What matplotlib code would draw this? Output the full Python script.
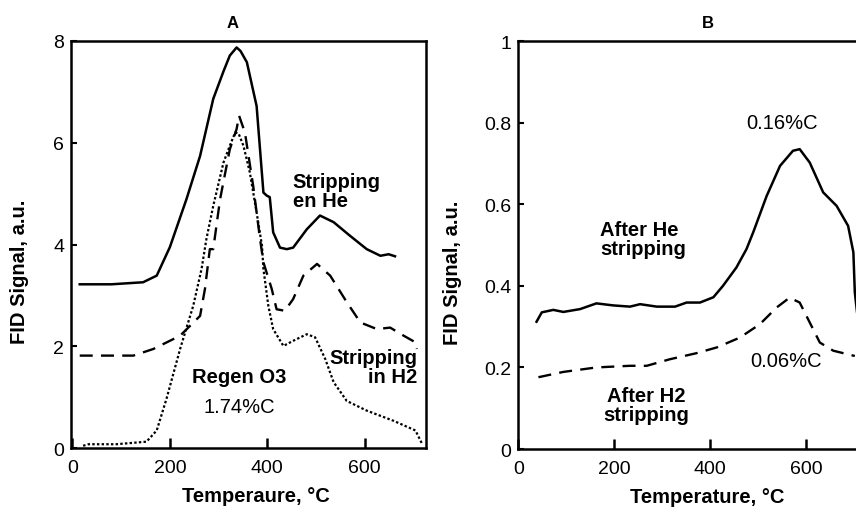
import matplotlib
matplotlib.use("Agg")
import matplotlib.pyplot as plt

plt.rcParams['font.family'] = ['Liberation Sans', 'DejaVu Sans']

# ---- panel A: TPO after regeneration / stripping ----
he_T = [15, 80, 145, 173, 200, 234, 262, 289, 310, 323, 337, 345, 358, 378, 385, 392,
        399, 405, 412, 426, 440, 453, 481, 508, 536, 570, 604, 632, 649, 662]
he_S = [3.22, 3.22, 3.26, 3.39, 3.95, 4.89, 5.74, 6.86, 7.4, 7.71, 7.87, 7.8, 7.58, 6.72, 5.87, 5.02,
        4.96, 4.93, 4.24, 3.94, 3.91, 3.94, 4.30, 4.57, 4.44, 4.17, 3.91, 3.78, 3.81, 3.77]

h2_T = [15, 70, 125, 166, 221, 262, 272, 282, 289, 303, 323, 337, 342, 354, 371, 385, 392,
        409, 419, 436, 453, 474, 502, 529, 563, 591, 625, 652, 680, 704, 707]
h2_S = [1.82, 1.82, 1.82, 1.95, 2.21, 2.60, 3.13, 3.91, 3.91, 4.89, 5.87, 6.27, 6.53, 6.20, 5.15, 4.11, 3.65,
        3.13, 2.73, 2.70, 2.93, 3.39, 3.62, 3.39, 2.87, 2.47, 2.34, 2.37, 2.21, 2.08, 1.95]

o3_T = [22, 33, 90, 152, 173, 193, 221, 248, 265, 275, 289, 310, 323, 334, 341, 351, 364, 378,
        389, 392, 402, 412, 433, 453, 481, 498, 519, 536, 563, 604, 659, 704, 717]
o3_S = [0.05, 0.08, 0.08, 0.13, 0.35, 0.97, 1.95, 2.80, 3.52, 4.11, 4.76, 5.61, 5.94, 6.20, 6.18, 5.94, 5.42, 4.63,
        3.98, 3.52, 2.80, 2.34, 2.01, 2.11, 2.24, 2.18, 1.75, 1.30, 0.93, 0.74, 0.54, 0.35, 0.10]

# ---- panel B: after stripping ----
bhe_T = [38, 49, 73, 94, 129, 163, 198, 233, 254, 289, 327, 351, 379, 407, 427, 455, 476, 490,
         518, 546, 573, 587, 608, 636, 664, 688, 699, 702, 710]
bhe_S = [0.312, 0.335, 0.341, 0.336, 0.343, 0.357, 0.352, 0.349, 0.355, 0.349, 0.349, 0.359, 0.359,
         0.372, 0.400, 0.445, 0.490, 0.531, 0.620, 0.694, 0.731, 0.735, 0.702, 0.629, 0.596, 0.547,
         0.482, 0.384, 0.30]

bh2_T = [42, 94, 163, 233, 268, 316, 372, 414, 462, 504, 539, 566, 587, 608, 629, 657, 702]
bh2_S = [0.176, 0.189, 0.200, 0.204, 0.204, 0.220, 0.235, 0.249, 0.273, 0.306, 0.347, 0.371,
         0.359, 0.310, 0.261, 0.241, 0.228]

a_yticks = [0, 2, 4, 6, 8]
b_yticks = [0, 0.2, 0.4, 0.6, 0.8, 1]
b_ylabels = ['0', '0.2', '0.4', '0.6', '0.8', '1']
xticks = [0, 200, 400, 600]

fig = plt.figure(figsize=(8.56, 5.10), dpi=100)
axA = fig.add_axes([0.0829, 0.119, 0.4144, 0.799])
axB = fig.add_axes([0.6055, 0.1176, 0.406, 0.80])


def style(ax):
    for s in ax.spines.values():
        s.set_linewidth(1.8)
    ax.tick_params(axis='x', direction='in', length=7, width=1.8, pad=8, labelsize=14)
    ax.tick_params(axis='y', direction='in', length=4, width=1.5, pad=5, labelsize=14)
    ax.set_xticks(xticks)


# panel A
axA.plot(he_T, he_S, color='black', lw=1.8)
axA.plot(h2_T, h2_S, color='black', lw=1.7, dashes=(5.5, 3.5))
axA.plot(o3_T, o3_S, color='black', lw=1.6, dashes=(1.1, 1.0))
axA.set_xlim(-3, 725)
axA.set_ylim(0, 8)
axA.set_yticks(a_yticks)
style(axA)
axA.set_title('A', fontsize=12, fontweight='bold', x=0.457, pad=10)
axA.set_xlabel('Temperaure, °C', fontsize=14.5, fontweight='bold')
axA.xaxis.set_label_coords(0.522, -0.116)
axA.xaxis.label.set_va('center')
axA.set_ylabel('FID Signal, a.u.', fontsize=14.5, fontweight='bold')
axA.yaxis.set_label_coords(-0.144, 0.435)
axA.yaxis.label.set_va('center')

axA.text(452, 5.05, 'Stripping\nen He', fontsize=14.5, fontweight='bold', ha='left', va='center',
         linespacing=1.0)
axA.text(708, 1.6, 'Stripping\nin H2', fontsize=14.5, fontweight='bold', ha='right', va='center',
         multialignment='right', linespacing=1.0)
axA.text(342, 1.41, 'Regen O3', fontsize=14.5, fontweight='bold', ha='center', va='center')
axA.text(342, 0.82, '1.74%C', fontsize=14.5, ha='center', va='center')

# panel B
axB.plot(bhe_T, bhe_S, color='black', lw=1.8)
axB.plot(bh2_T, bh2_S, color='black', lw=1.7, dashes=(5.5, 3.5))
axB.set_xlim(0, 725)
axB.set_ylim(0, 1)
axB.set_yticks(b_yticks)
axB.set_yticklabels(b_ylabels)
style(axB)
axB.set_title('B', fontsize=12, fontweight='bold', x=0.546, pad=10)
axB.set_xlabel('Temperature, °C', fontsize=14.5, fontweight='bold')
axB.xaxis.set_label_coords(0.544, -0.116)
axB.xaxis.label.set_va('center')
axB.set_ylabel('FID Signal, a.u.', fontsize=14.5, fontweight='bold')
axB.yaxis.set_label_coords(-0.19, 0.435)
axB.yaxis.label.set_va('center')

axB.text(551, 0.801, '0.16%C', fontsize=14.5, ha='center', va='center')
axB.text(170, 0.514, 'After He\nstripping', fontsize=14.5, fontweight='bold', ha='left', va='center',
         linespacing=1.0)
axB.text(558, 0.218, '0.06%C', fontsize=14.5, ha='center', va='center')
axB.text(266, 0.108, 'After H2\nstripping', fontsize=14.5, fontweight='bold', ha='center', va='center',
         multialignment='center', linespacing=1.0)

fig.savefig('out.png', dpi=100)
